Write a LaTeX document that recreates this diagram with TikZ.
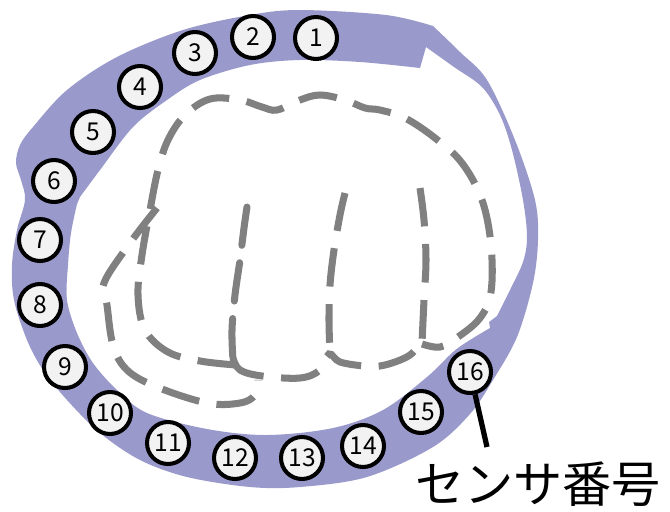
\documentclass[tikz,border=0pt]{standalone}
\usepackage{fontspec}
\setmainfont{Noto Sans CJK JP}
\definecolor{band}{RGB}{153,153,204}
\definecolor{knob}{RGB}{242,242,242}
\definecolor{fist}{RGB}{128,128,128}
\begin{document}
\begin{tikzpicture}[x=0.02cm,y=-0.02cm,
  sensor/.style={circle, draw=black, line width=2.3pt, fill=knob, minimum size=0.84cm,
    inner sep=0pt, font=\fontsize{14}{15}\selectfont},
  outline/.style={draw=fist, line width=4pt, dash pattern=on 22pt off 10pt},
  leader/.style={draw=black, line width=3pt},
  caption/.style={font=\fontsize{28}{30}\selectfont, inner sep=0pt}]
\useasboundingbox (0,0) rectangle (670,511);

% wristband: outer edge and inner edge, filled as a ring
\fill[band, even odd rule]
  plot[smooth, tension=0.55] coordinates {(433,26) (460,52) (487,80) (515,140) (535,200)
    (538,240) (533,283) (517,337) (493,380) (470,414) (433,447) (367,477) (300,487)
    (250,487) (187,477) (140,460) (100,433) (67,400) (43,370) (27,340) (14,300) (12,265)
    (17,230) (25,200) (21,180) (16,163) (20,145) (33,127) (67,90) (117,57) (183,30)
    (250,15) (300,10) (386,15) (433,26)} -- cycle
  plot[smooth, tension=0.55] coordinates {(426,47) (454,67) (482,87) (500,115) (512,150)
    (523,200) (527,237) (523,262) (510,290) (497,316)} -- (489,322)
  -- plot[smooth, tension=0.55] coordinates {(490,328) (470,340) (453,352) (427,377)
    (383,410) (333,428) (267,435) (207,429) (147,413) (117,390) (93,363) (77,333)
    (67,300) (68,265) (71,233) (77,204)} -- (80,197)
  -- plot[smooth, tension=0.55] coordinates {(80,197) (100,170) (133,127) (167,100)
    (200,80) (250,65) (300,60) (360,62) (420,68)} -- cycle;

% fist drawn with dashed strokes
% thumb
\draw[outline] plot[smooth, tension=0.6] coordinates {(157,208) (130,243) (104,283)
  (107,305) (113,345) (127,370) (157,387) (207,403) (240,403) (255,395) (258,380)};
% index finger edge, knuckles and the outer edge of the little finger
\draw[outline] plot[smooth, tension=0.6] coordinates {(236,365) (200,361) (168,352)
  (145,330) (138,295) (142,255) (150,210) (158,170) (168,140) (185,115) (210,99)
  (240,100) (262,107) (277,110) (300,100) (320,95) (345,100) (365,108) (380,110)
  (405,118) (435,138) (462,163) (482,200) (491,245) (491,292) (480,318) (458,337)
  (440,347) (422,344)};
% finger tips along the bottom
\draw[outline] plot[smooth, tension=0.6] coordinates {(233,358) (240,370) (262,376)
  (300,378) (320,370) (329,354) (340,362) (365,366) (385,365) (410,355) (421,340)};
% gaps between the fingers
\draw[outline, line cap=round] plot[smooth, tension=0.6] coordinates {(247,207) (244,228)
  (240,260) (235,295) (232,330) (233,360)};
\draw[outline] plot[smooth, tension=0.6] coordinates {(345,193) (340,215) (334,250)
  (330,285) (329,320) (330,354)};
\draw[outline] plot[smooth, tension=0.6] coordinates {(420,188) (424,220) (426,260)
  (424,300) (422,343)};

% sensors
\node[sensor] (s1)  at (316,38)  {1};
\node[sensor] (s2)  at (253,37)  {2};
\node[sensor] (s3)  at (195,53)  {3};
\node[sensor] (s4)  at (140,87)  {4};
\node[sensor] (s5)  at (93,132)  {5};
\node[sensor] (s6)  at (54,181)  {6};
\node[sensor] (s7)  at (40,240)  {7};
\node[sensor] (s8)  at (40,305)  {8};
\node[sensor] (s9)  at (65,367)  {9};
\node[sensor] (s10) at (110,413) {10};
\node[sensor] (s11) at (168,443) {11};
\node[sensor] (s12) at (235,458) {12};
\node[sensor] (s13) at (302,458) {13};
\node[sensor] (s14) at (363,446) {14};
\node[sensor] (s15) at (421,412) {15};
\node[sensor] (s16) at (470,372) {16};

% caption with its leader line
\coordinate (leadend) at (487,447);
\draw[leader] (s16) -- (leadend);
\node[caption] (cap) at (538,484) {センサ番号};
\end{tikzpicture}
\end{document}
